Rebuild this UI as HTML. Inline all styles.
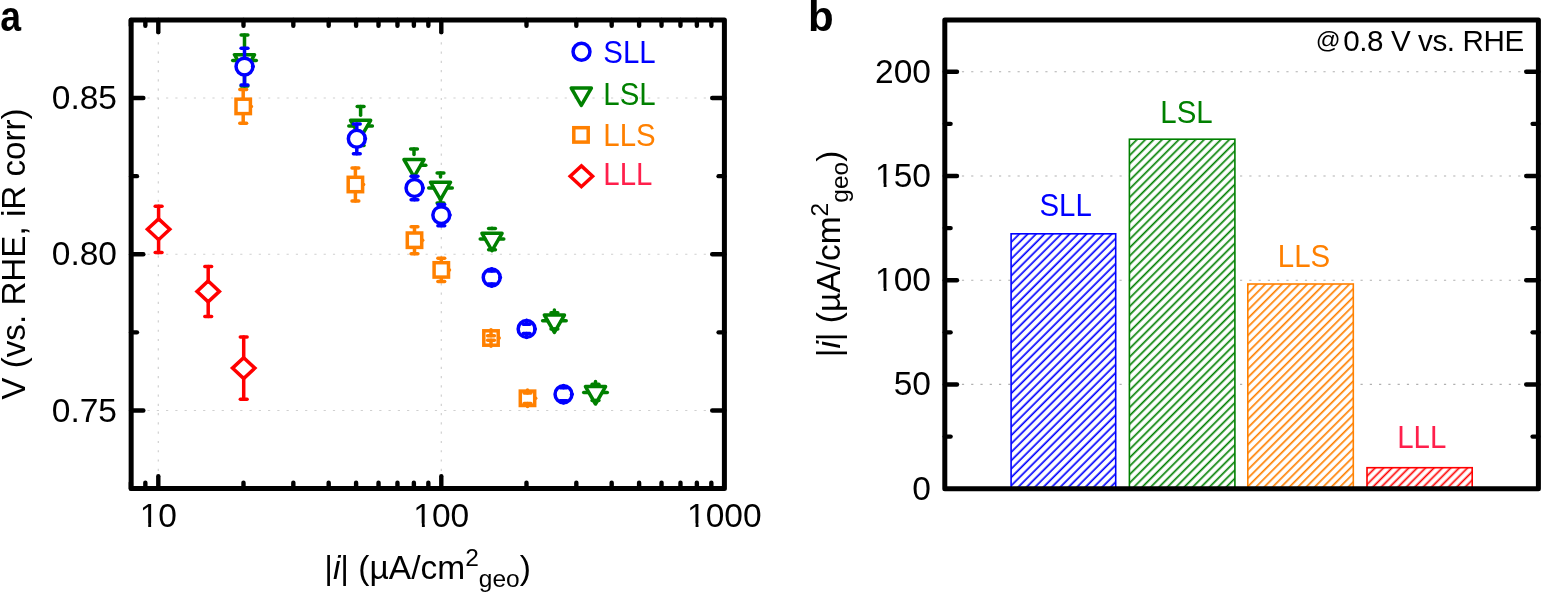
<!DOCTYPE html>
<html><head><meta charset="utf-8"><title>Figure</title>
<style>html,body{margin:0;padding:0;background:#fff;}svg{display:block;}</style>
</head><body>
<svg width="1541" height="593" viewBox="0 0 1541 593" font-family="'Liberation Sans', Arial, Helvetica, sans-serif"><defs><pattern id="h0" patternUnits="userSpaceOnUse" width="5.94" height="5.94" patternTransform="rotate(45)"><rect width="5.94" height="5.94" fill="#fff"/><line x1="-4.738" y1="-1" x2="-4.738" y2="6.94" stroke="#0000ff" stroke-width="1.7"/><line x1="1.202" y1="-1" x2="1.202" y2="6.94" stroke="#0000ff" stroke-width="1.7"/><line x1="7.142" y1="-1" x2="7.142" y2="6.94" stroke="#0000ff" stroke-width="1.7"/></pattern><pattern id="h1" patternUnits="userSpaceOnUse" width="5.94" height="5.94" patternTransform="rotate(45)"><rect width="5.94" height="5.94" fill="#fff"/><line x1="-0.283" y1="-1" x2="-0.283" y2="6.94" stroke="#008000" stroke-width="1.7"/><line x1="5.657" y1="-1" x2="5.657" y2="6.94" stroke="#008000" stroke-width="1.7"/><line x1="11.597" y1="-1" x2="11.597" y2="6.94" stroke="#008000" stroke-width="1.7"/></pattern><pattern id="h2" patternUnits="userSpaceOnUse" width="5.94" height="5.94" patternTransform="rotate(45)"><rect width="5.94" height="5.94" fill="#fff"/><line x1="-3.182" y1="-1" x2="-3.182" y2="6.94" stroke="#ff8000" stroke-width="1.7"/><line x1="2.758" y1="-1" x2="2.758" y2="6.94" stroke="#ff8000" stroke-width="1.7"/><line x1="8.698" y1="-1" x2="8.698" y2="6.94" stroke="#ff8000" stroke-width="1.7"/></pattern><pattern id="h3" patternUnits="userSpaceOnUse" width="5.94" height="5.94" patternTransform="rotate(45)"><rect width="5.94" height="5.94" fill="#fff"/><line x1="-3.536" y1="-1" x2="-3.536" y2="6.94" stroke="#ff0000" stroke-width="1.7"/><line x1="2.404" y1="-1" x2="2.404" y2="6.94" stroke="#ff0000" stroke-width="1.7"/><line x1="8.344" y1="-1" x2="8.344" y2="6.94" stroke="#ff0000" stroke-width="1.7"/></pattern></defs><line x1="147.50" y1="98.00" x2="721.40" y2="98.00" stroke="#d0d0d0" stroke-width="1.2" stroke-dasharray="2.2 7.07"/>
<line x1="147.50" y1="254.25" x2="721.40" y2="254.25" stroke="#d0d0d0" stroke-width="1.2" stroke-dasharray="2.2 7.07"/>
<line x1="147.50" y1="410.50" x2="721.40" y2="410.50" stroke="#d0d0d0" stroke-width="1.2" stroke-dasharray="2.2 7.07"/>
<line x1="158.30" y1="33.00" x2="158.30" y2="476.50" stroke="#d0d0d0" stroke-width="1.2" stroke-dasharray="2.2 7.07"/>
<line x1="441.30" y1="33.00" x2="441.30" y2="476.50" stroke="#d0d0d0" stroke-width="1.2" stroke-dasharray="2.2 7.07"/>
<line x1="130.87" y1="488.50" x2="130.87" y2="482.70" stroke="#000" stroke-width="4.4" stroke-linecap="round"/>
<line x1="130.87" y1="19.95" x2="130.87" y2="25.75" stroke="#000" stroke-width="4.4" stroke-linecap="round"/>
<line x1="145.35" y1="488.50" x2="145.35" y2="482.70" stroke="#000" stroke-width="4.4" stroke-linecap="round"/>
<line x1="145.35" y1="19.95" x2="145.35" y2="25.75" stroke="#000" stroke-width="4.4" stroke-linecap="round"/>
<line x1="158.30" y1="488.50" x2="158.30" y2="476.30" stroke="#000" stroke-width="4.4" stroke-linecap="round"/>
<line x1="158.30" y1="19.95" x2="158.30" y2="32.15" stroke="#000" stroke-width="4.4" stroke-linecap="round"/>
<line x1="243.49" y1="488.50" x2="243.49" y2="482.70" stroke="#000" stroke-width="4.4" stroke-linecap="round"/>
<line x1="243.49" y1="19.95" x2="243.49" y2="25.75" stroke="#000" stroke-width="4.4" stroke-linecap="round"/>
<line x1="293.33" y1="488.50" x2="293.33" y2="482.70" stroke="#000" stroke-width="4.4" stroke-linecap="round"/>
<line x1="293.33" y1="19.95" x2="293.33" y2="25.75" stroke="#000" stroke-width="4.4" stroke-linecap="round"/>
<line x1="328.68" y1="488.50" x2="328.68" y2="482.70" stroke="#000" stroke-width="4.4" stroke-linecap="round"/>
<line x1="328.68" y1="19.95" x2="328.68" y2="25.75" stroke="#000" stroke-width="4.4" stroke-linecap="round"/>
<line x1="356.11" y1="488.50" x2="356.11" y2="482.70" stroke="#000" stroke-width="4.4" stroke-linecap="round"/>
<line x1="356.11" y1="19.95" x2="356.11" y2="25.75" stroke="#000" stroke-width="4.4" stroke-linecap="round"/>
<line x1="378.52" y1="488.50" x2="378.52" y2="482.70" stroke="#000" stroke-width="4.4" stroke-linecap="round"/>
<line x1="378.52" y1="19.95" x2="378.52" y2="25.75" stroke="#000" stroke-width="4.4" stroke-linecap="round"/>
<line x1="397.46" y1="488.50" x2="397.46" y2="482.70" stroke="#000" stroke-width="4.4" stroke-linecap="round"/>
<line x1="397.46" y1="19.95" x2="397.46" y2="25.75" stroke="#000" stroke-width="4.4" stroke-linecap="round"/>
<line x1="413.87" y1="488.50" x2="413.87" y2="482.70" stroke="#000" stroke-width="4.4" stroke-linecap="round"/>
<line x1="413.87" y1="19.95" x2="413.87" y2="25.75" stroke="#000" stroke-width="4.4" stroke-linecap="round"/>
<line x1="428.35" y1="488.50" x2="428.35" y2="482.70" stroke="#000" stroke-width="4.4" stroke-linecap="round"/>
<line x1="428.35" y1="19.95" x2="428.35" y2="25.75" stroke="#000" stroke-width="4.4" stroke-linecap="round"/>
<line x1="441.30" y1="488.50" x2="441.30" y2="476.30" stroke="#000" stroke-width="4.4" stroke-linecap="round"/>
<line x1="441.30" y1="19.95" x2="441.30" y2="32.15" stroke="#000" stroke-width="4.4" stroke-linecap="round"/>
<line x1="526.49" y1="488.50" x2="526.49" y2="482.70" stroke="#000" stroke-width="4.4" stroke-linecap="round"/>
<line x1="526.49" y1="19.95" x2="526.49" y2="25.75" stroke="#000" stroke-width="4.4" stroke-linecap="round"/>
<line x1="576.33" y1="488.50" x2="576.33" y2="482.70" stroke="#000" stroke-width="4.4" stroke-linecap="round"/>
<line x1="576.33" y1="19.95" x2="576.33" y2="25.75" stroke="#000" stroke-width="4.4" stroke-linecap="round"/>
<line x1="611.68" y1="488.50" x2="611.68" y2="482.70" stroke="#000" stroke-width="4.4" stroke-linecap="round"/>
<line x1="611.68" y1="19.95" x2="611.68" y2="25.75" stroke="#000" stroke-width="4.4" stroke-linecap="round"/>
<line x1="639.11" y1="488.50" x2="639.11" y2="482.70" stroke="#000" stroke-width="4.4" stroke-linecap="round"/>
<line x1="639.11" y1="19.95" x2="639.11" y2="25.75" stroke="#000" stroke-width="4.4" stroke-linecap="round"/>
<line x1="661.52" y1="488.50" x2="661.52" y2="482.70" stroke="#000" stroke-width="4.4" stroke-linecap="round"/>
<line x1="661.52" y1="19.95" x2="661.52" y2="25.75" stroke="#000" stroke-width="4.4" stroke-linecap="round"/>
<line x1="680.46" y1="488.50" x2="680.46" y2="482.70" stroke="#000" stroke-width="4.4" stroke-linecap="round"/>
<line x1="680.46" y1="19.95" x2="680.46" y2="25.75" stroke="#000" stroke-width="4.4" stroke-linecap="round"/>
<line x1="696.87" y1="488.50" x2="696.87" y2="482.70" stroke="#000" stroke-width="4.4" stroke-linecap="round"/>
<line x1="696.87" y1="19.95" x2="696.87" y2="25.75" stroke="#000" stroke-width="4.4" stroke-linecap="round"/>
<line x1="711.35" y1="488.50" x2="711.35" y2="482.70" stroke="#000" stroke-width="4.4" stroke-linecap="round"/>
<line x1="711.35" y1="19.95" x2="711.35" y2="25.75" stroke="#000" stroke-width="4.4" stroke-linecap="round"/>
<line x1="131.15" y1="98.00" x2="143.35" y2="98.00" stroke="#000" stroke-width="4.4" stroke-linecap="round"/>
<line x1="724.40" y1="98.00" x2="712.20" y2="98.00" stroke="#000" stroke-width="4.4" stroke-linecap="round"/>
<line x1="131.15" y1="176.13" x2="136.95" y2="176.13" stroke="#000" stroke-width="4.4" stroke-linecap="round"/>
<line x1="724.40" y1="176.13" x2="718.60" y2="176.13" stroke="#000" stroke-width="4.4" stroke-linecap="round"/>
<line x1="131.15" y1="254.25" x2="143.35" y2="254.25" stroke="#000" stroke-width="4.4" stroke-linecap="round"/>
<line x1="724.40" y1="254.25" x2="712.20" y2="254.25" stroke="#000" stroke-width="4.4" stroke-linecap="round"/>
<line x1="131.15" y1="332.37" x2="136.95" y2="332.37" stroke="#000" stroke-width="4.4" stroke-linecap="round"/>
<line x1="724.40" y1="332.37" x2="718.60" y2="332.37" stroke="#000" stroke-width="4.4" stroke-linecap="round"/>
<line x1="131.15" y1="410.50" x2="143.35" y2="410.50" stroke="#000" stroke-width="4.4" stroke-linecap="round"/>
<line x1="724.40" y1="410.50" x2="712.20" y2="410.50" stroke="#000" stroke-width="4.4" stroke-linecap="round"/>
<rect x="131.15" y="19.95" width="593.25" height="468.55" fill="none" stroke="#000" stroke-width="5.0" stroke-linejoin="round"/>
<polygon points="158.60,218.90 169.80,229.30 158.60,239.70 147.40,229.30" fill="#fff" stroke="#ff0000" stroke-width="3.5" stroke-linejoin="miter"/>
<line x1="158.60" y1="219.80" x2="158.60" y2="206.20" stroke="#ff0000" stroke-width="3.5" stroke-linecap="round"/><line x1="155.20" y1="206.20" x2="162.00" y2="206.20" stroke="#ff0000" stroke-width="3.5" stroke-linecap="round"/><line x1="158.60" y1="238.80" x2="158.60" y2="252.40" stroke="#ff0000" stroke-width="3.5" stroke-linecap="round"/><line x1="155.20" y1="252.40" x2="162.00" y2="252.40" stroke="#ff0000" stroke-width="3.5" stroke-linecap="round"/>
<polygon points="208.20,281.00 219.40,291.40 208.20,301.80 197.00,291.40" fill="#fff" stroke="#ff0000" stroke-width="3.5" stroke-linejoin="miter"/>
<line x1="208.20" y1="281.90" x2="208.20" y2="266.40" stroke="#ff0000" stroke-width="3.5" stroke-linecap="round"/><line x1="204.80" y1="266.40" x2="211.60" y2="266.40" stroke="#ff0000" stroke-width="3.5" stroke-linecap="round"/><line x1="208.20" y1="300.90" x2="208.20" y2="316.40" stroke="#ff0000" stroke-width="3.5" stroke-linecap="round"/><line x1="204.80" y1="316.40" x2="211.60" y2="316.40" stroke="#ff0000" stroke-width="3.5" stroke-linecap="round"/>
<polygon points="243.70,357.70 254.90,368.10 243.70,378.50 232.50,368.10" fill="#fff" stroke="#ff0000" stroke-width="3.5" stroke-linejoin="miter"/>
<line x1="243.70" y1="358.60" x2="243.70" y2="336.90" stroke="#ff0000" stroke-width="3.5" stroke-linecap="round"/><line x1="240.30" y1="336.90" x2="247.10" y2="336.90" stroke="#ff0000" stroke-width="3.5" stroke-linecap="round"/><line x1="243.70" y1="377.60" x2="243.70" y2="399.30" stroke="#ff0000" stroke-width="3.5" stroke-linecap="round"/><line x1="240.30" y1="399.30" x2="247.10" y2="399.30" stroke="#ff0000" stroke-width="3.5" stroke-linecap="round"/>
<rect x="236.00" y="99.20" width="14.40" height="14.40" fill="#fff" stroke="#ff8000" stroke-width="3.5"/>
<line x1="243.20" y1="98.20" x2="243.20" y2="89.55" stroke="#ff8000" stroke-width="3.5" stroke-linecap="round"/><line x1="239.80" y1="89.55" x2="246.60" y2="89.55" stroke="#ff8000" stroke-width="3.5" stroke-linecap="round"/><line x1="243.20" y1="114.60" x2="243.20" y2="123.25" stroke="#ff8000" stroke-width="3.5" stroke-linecap="round"/><line x1="239.80" y1="123.25" x2="246.60" y2="123.25" stroke="#ff8000" stroke-width="3.5" stroke-linecap="round"/>
<line x1="251.40" y1="106.40" x2="250.80" y2="106.40" stroke="#ff8000" stroke-width="3.5" stroke-linecap="round"/>
<rect x="348.20" y="177.30" width="14.40" height="14.40" fill="#fff" stroke="#ff8000" stroke-width="3.5"/>
<line x1="355.40" y1="176.30" x2="355.40" y2="168.05" stroke="#ff8000" stroke-width="3.5" stroke-linecap="round"/><line x1="352.00" y1="168.05" x2="358.80" y2="168.05" stroke="#ff8000" stroke-width="3.5" stroke-linecap="round"/><line x1="355.40" y1="192.70" x2="355.40" y2="200.95" stroke="#ff8000" stroke-width="3.5" stroke-linecap="round"/><line x1="352.00" y1="200.95" x2="358.80" y2="200.95" stroke="#ff8000" stroke-width="3.5" stroke-linecap="round"/>
<line x1="363.60" y1="184.50" x2="363.00" y2="184.50" stroke="#ff8000" stroke-width="3.5" stroke-linecap="round"/>
<rect x="407.30" y="233.00" width="14.40" height="14.40" fill="#fff" stroke="#ff8000" stroke-width="3.5"/>
<line x1="414.50" y1="232.00" x2="414.50" y2="226.70" stroke="#ff8000" stroke-width="3.5" stroke-linecap="round"/><line x1="411.10" y1="226.70" x2="417.90" y2="226.70" stroke="#ff8000" stroke-width="3.5" stroke-linecap="round"/><line x1="414.50" y1="248.40" x2="414.50" y2="253.70" stroke="#ff8000" stroke-width="3.5" stroke-linecap="round"/><line x1="411.10" y1="253.70" x2="417.90" y2="253.70" stroke="#ff8000" stroke-width="3.5" stroke-linecap="round"/>
<line x1="422.70" y1="240.20" x2="422.10" y2="240.20" stroke="#ff8000" stroke-width="3.5" stroke-linecap="round"/>
<rect x="434.10" y="262.70" width="14.40" height="14.40" fill="#fff" stroke="#ff8000" stroke-width="3.5"/>
<line x1="441.30" y1="261.70" x2="441.30" y2="258.30" stroke="#ff8000" stroke-width="3.5" stroke-linecap="round"/><line x1="437.90" y1="258.30" x2="444.70" y2="258.30" stroke="#ff8000" stroke-width="3.5" stroke-linecap="round"/><line x1="441.30" y1="278.10" x2="441.30" y2="281.50" stroke="#ff8000" stroke-width="3.5" stroke-linecap="round"/><line x1="437.90" y1="281.50" x2="444.70" y2="281.50" stroke="#ff8000" stroke-width="3.5" stroke-linecap="round"/>
<line x1="449.50" y1="269.90" x2="448.90" y2="269.90" stroke="#ff8000" stroke-width="3.5" stroke-linecap="round"/>
<rect x="483.80" y="330.80" width="14.40" height="14.40" fill="#fff" stroke="#ff8000" stroke-width="3.5"/>
<line x1="491.00" y1="329.80" x2="491.00" y2="335.70" stroke="#ff8000" stroke-width="3.5" stroke-linecap="round"/><line x1="487.60" y1="335.70" x2="494.40" y2="335.70" stroke="#ff8000" stroke-width="3.5" stroke-linecap="round"/><line x1="491.00" y1="346.20" x2="491.00" y2="340.30" stroke="#ff8000" stroke-width="3.5" stroke-linecap="round"/><line x1="487.60" y1="340.30" x2="494.40" y2="340.30" stroke="#ff8000" stroke-width="3.5" stroke-linecap="round"/>
<line x1="499.20" y1="338.00" x2="498.60" y2="338.00" stroke="#ff8000" stroke-width="3.5" stroke-linecap="round"/>
<rect x="520.30" y="391.10" width="14.40" height="14.40" fill="#fff" stroke="#ff8000" stroke-width="3.5"/>
<line x1="527.50" y1="390.10" x2="527.50" y2="393.00" stroke="#ff8000" stroke-width="3.5" stroke-linecap="round"/><line x1="524.10" y1="393.00" x2="530.90" y2="393.00" stroke="#ff8000" stroke-width="3.5" stroke-linecap="round"/><line x1="527.50" y1="406.50" x2="527.50" y2="403.60" stroke="#ff8000" stroke-width="3.5" stroke-linecap="round"/><line x1="524.10" y1="403.60" x2="530.90" y2="403.60" stroke="#ff8000" stroke-width="3.5" stroke-linecap="round"/>
<line x1="535.70" y1="398.30" x2="535.10" y2="398.30" stroke="#ff8000" stroke-width="3.5" stroke-linecap="round"/>
<polygon points="234.45,54.70 254.55,54.70 244.50,72.10" fill="#fff" stroke="#008000" stroke-width="3.5" stroke-linejoin="round"/>
<line x1="244.50" y1="49.60" x2="244.50" y2="35.10" stroke="#008000" stroke-width="3.5" stroke-linecap="round"/><line x1="241.10" y1="35.10" x2="247.90" y2="35.10" stroke="#008000" stroke-width="3.5" stroke-linecap="round"/><line x1="244.50" y1="71.40" x2="244.50" y2="85.90" stroke="#008000" stroke-width="3.5" stroke-linecap="round"/><line x1="241.10" y1="85.90" x2="247.90" y2="85.90" stroke="#008000" stroke-width="3.5" stroke-linecap="round"/>
<line x1="251.50" y1="60.50" x2="256.30" y2="60.50" stroke="#008000" stroke-width="3.5" stroke-linecap="round"/><line x1="237.50" y1="60.50" x2="232.70" y2="60.50" stroke="#008000" stroke-width="3.5" stroke-linecap="round"/>
<polygon points="350.55,120.30 370.65,120.30 360.60,137.70" fill="#fff" stroke="#008000" stroke-width="3.5" stroke-linejoin="round"/>
<line x1="360.60" y1="115.20" x2="360.60" y2="106.60" stroke="#008000" stroke-width="3.5" stroke-linecap="round"/><line x1="357.20" y1="106.60" x2="364.00" y2="106.60" stroke="#008000" stroke-width="3.5" stroke-linecap="round"/><line x1="360.60" y1="137.00" x2="360.60" y2="145.60" stroke="#008000" stroke-width="3.5" stroke-linecap="round"/><line x1="357.20" y1="145.60" x2="364.00" y2="145.60" stroke="#008000" stroke-width="3.5" stroke-linecap="round"/>
<line x1="367.60" y1="126.10" x2="372.40" y2="126.10" stroke="#008000" stroke-width="3.5" stroke-linecap="round"/><line x1="353.60" y1="126.10" x2="348.80" y2="126.10" stroke="#008000" stroke-width="3.5" stroke-linecap="round"/>
<polygon points="403.95,159.50 424.05,159.50 414.00,176.90" fill="#fff" stroke="#008000" stroke-width="3.5" stroke-linejoin="round"/>
<line x1="414.00" y1="154.40" x2="414.00" y2="149.00" stroke="#008000" stroke-width="3.5" stroke-linecap="round"/><line x1="410.60" y1="149.00" x2="417.40" y2="149.00" stroke="#008000" stroke-width="3.5" stroke-linecap="round"/><line x1="414.00" y1="176.20" x2="414.00" y2="181.60" stroke="#008000" stroke-width="3.5" stroke-linecap="round"/><line x1="410.60" y1="181.60" x2="417.40" y2="181.60" stroke="#008000" stroke-width="3.5" stroke-linecap="round"/>
<line x1="421.00" y1="165.30" x2="425.80" y2="165.30" stroke="#008000" stroke-width="3.5" stroke-linecap="round"/>
<polygon points="430.45,182.20 450.55,182.20 440.50,199.60" fill="#fff" stroke="#008000" stroke-width="3.5" stroke-linejoin="round"/>
<line x1="440.50" y1="177.10" x2="440.50" y2="173.00" stroke="#008000" stroke-width="3.5" stroke-linecap="round"/><line x1="437.10" y1="173.00" x2="443.90" y2="173.00" stroke="#008000" stroke-width="3.5" stroke-linecap="round"/><line x1="440.50" y1="198.90" x2="440.50" y2="203.00" stroke="#008000" stroke-width="3.5" stroke-linecap="round"/><line x1="437.10" y1="203.00" x2="443.90" y2="203.00" stroke="#008000" stroke-width="3.5" stroke-linecap="round"/>
<line x1="447.50" y1="188.00" x2="452.30" y2="188.00" stroke="#008000" stroke-width="3.5" stroke-linecap="round"/><line x1="433.50" y1="188.00" x2="428.70" y2="188.00" stroke="#008000" stroke-width="3.5" stroke-linecap="round"/>
<polygon points="481.95,233.30 502.05,233.30 492.00,250.70" fill="#fff" stroke="#008000" stroke-width="3.5" stroke-linejoin="round"/>
<line x1="492.00" y1="228.20" x2="492.00" y2="228.50" stroke="#008000" stroke-width="3.5" stroke-linecap="round"/><line x1="488.60" y1="228.50" x2="495.40" y2="228.50" stroke="#008000" stroke-width="3.5" stroke-linecap="round"/><line x1="492.00" y1="250.00" x2="492.00" y2="249.70" stroke="#008000" stroke-width="3.5" stroke-linecap="round"/><line x1="488.60" y1="249.70" x2="495.40" y2="249.70" stroke="#008000" stroke-width="3.5" stroke-linecap="round"/>
<line x1="499.00" y1="239.10" x2="503.80" y2="239.10" stroke="#008000" stroke-width="3.5" stroke-linecap="round"/><line x1="485.00" y1="239.10" x2="480.20" y2="239.10" stroke="#008000" stroke-width="3.5" stroke-linecap="round"/>
<polygon points="544.35,315.00 564.45,315.00 554.40,332.40" fill="#fff" stroke="#008000" stroke-width="3.5" stroke-linejoin="round"/>
<line x1="554.40" y1="309.90" x2="554.40" y2="312.70" stroke="#008000" stroke-width="3.5" stroke-linecap="round"/><line x1="551.00" y1="312.70" x2="557.80" y2="312.70" stroke="#008000" stroke-width="3.5" stroke-linecap="round"/><line x1="554.40" y1="331.70" x2="554.40" y2="328.90" stroke="#008000" stroke-width="3.5" stroke-linecap="round"/><line x1="551.00" y1="328.90" x2="557.80" y2="328.90" stroke="#008000" stroke-width="3.5" stroke-linecap="round"/>
<line x1="561.40" y1="320.80" x2="566.20" y2="320.80" stroke="#008000" stroke-width="3.5" stroke-linecap="round"/><line x1="547.40" y1="320.80" x2="542.60" y2="320.80" stroke="#008000" stroke-width="3.5" stroke-linecap="round"/>
<polygon points="585.45,386.60 605.55,386.60 595.50,404.00" fill="#fff" stroke="#008000" stroke-width="3.5" stroke-linejoin="round"/>
<line x1="595.50" y1="381.50" x2="595.50" y2="384.30" stroke="#008000" stroke-width="3.5" stroke-linecap="round"/><line x1="592.10" y1="384.30" x2="598.90" y2="384.30" stroke="#008000" stroke-width="3.5" stroke-linecap="round"/><line x1="595.50" y1="403.30" x2="595.50" y2="400.50" stroke="#008000" stroke-width="3.5" stroke-linecap="round"/><line x1="592.10" y1="400.50" x2="598.90" y2="400.50" stroke="#008000" stroke-width="3.5" stroke-linecap="round"/>
<line x1="602.50" y1="392.40" x2="607.30" y2="392.40" stroke="#008000" stroke-width="3.5" stroke-linecap="round"/><line x1="588.50" y1="392.40" x2="583.70" y2="392.40" stroke="#008000" stroke-width="3.5" stroke-linecap="round"/>
<circle cx="244.50" cy="66.60" r="8.45" fill="#fff" stroke="#0000ff" stroke-width="3.5"/>
<line x1="244.50" y1="57.90" x2="244.50" y2="48.30" stroke="#0000ff" stroke-width="3.5" stroke-linecap="round"/><line x1="241.10" y1="48.30" x2="247.90" y2="48.30" stroke="#0000ff" stroke-width="3.5" stroke-linecap="round"/><line x1="244.50" y1="75.30" x2="244.50" y2="84.90" stroke="#0000ff" stroke-width="3.5" stroke-linecap="round"/><line x1="241.10" y1="84.90" x2="247.90" y2="84.90" stroke="#0000ff" stroke-width="3.5" stroke-linecap="round"/>
<line x1="253.20" y1="66.60" x2="252.60" y2="66.60" stroke="#0000ff" stroke-width="3.5" stroke-linecap="round"/>
<circle cx="356.80" cy="138.80" r="8.45" fill="#fff" stroke="#0000ff" stroke-width="3.5"/>
<line x1="356.80" y1="130.10" x2="356.80" y2="123.90" stroke="#0000ff" stroke-width="3.5" stroke-linecap="round"/><line x1="353.40" y1="123.90" x2="360.20" y2="123.90" stroke="#0000ff" stroke-width="3.5" stroke-linecap="round"/><line x1="356.80" y1="147.50" x2="356.80" y2="153.70" stroke="#0000ff" stroke-width="3.5" stroke-linecap="round"/><line x1="353.40" y1="153.70" x2="360.20" y2="153.70" stroke="#0000ff" stroke-width="3.5" stroke-linecap="round"/>
<line x1="365.50" y1="138.80" x2="364.90" y2="138.80" stroke="#0000ff" stroke-width="3.5" stroke-linecap="round"/>
<circle cx="414.50" cy="188.00" r="8.45" fill="#fff" stroke="#0000ff" stroke-width="3.5"/>
<line x1="414.50" y1="179.30" x2="414.50" y2="176.30" stroke="#0000ff" stroke-width="3.5" stroke-linecap="round"/><line x1="411.10" y1="176.30" x2="417.90" y2="176.30" stroke="#0000ff" stroke-width="3.5" stroke-linecap="round"/><line x1="414.50" y1="196.70" x2="414.50" y2="199.70" stroke="#0000ff" stroke-width="3.5" stroke-linecap="round"/><line x1="411.10" y1="199.70" x2="417.90" y2="199.70" stroke="#0000ff" stroke-width="3.5" stroke-linecap="round"/>
<line x1="423.20" y1="188.00" x2="422.60" y2="188.00" stroke="#0000ff" stroke-width="3.5" stroke-linecap="round"/>
<circle cx="441.30" cy="215.10" r="8.45" fill="#fff" stroke="#0000ff" stroke-width="3.5"/>
<line x1="441.30" y1="206.40" x2="441.30" y2="204.40" stroke="#0000ff" stroke-width="3.5" stroke-linecap="round"/><line x1="437.90" y1="204.40" x2="444.70" y2="204.40" stroke="#0000ff" stroke-width="3.5" stroke-linecap="round"/><line x1="441.30" y1="223.80" x2="441.30" y2="225.80" stroke="#0000ff" stroke-width="3.5" stroke-linecap="round"/><line x1="437.90" y1="225.80" x2="444.70" y2="225.80" stroke="#0000ff" stroke-width="3.5" stroke-linecap="round"/>
<line x1="450.00" y1="215.10" x2="449.40" y2="215.10" stroke="#0000ff" stroke-width="3.5" stroke-linecap="round"/>
<circle cx="491.70" cy="277.50" r="8.45" fill="#fff" stroke="#0000ff" stroke-width="3.5"/>
<line x1="491.70" y1="268.80" x2="491.70" y2="271.10" stroke="#0000ff" stroke-width="3.5" stroke-linecap="round"/><line x1="488.30" y1="271.10" x2="495.10" y2="271.10" stroke="#0000ff" stroke-width="3.5" stroke-linecap="round"/><line x1="491.70" y1="286.20" x2="491.70" y2="283.90" stroke="#0000ff" stroke-width="3.5" stroke-linecap="round"/><line x1="488.30" y1="283.90" x2="495.10" y2="283.90" stroke="#0000ff" stroke-width="3.5" stroke-linecap="round"/>
<line x1="500.40" y1="277.50" x2="499.80" y2="277.50" stroke="#0000ff" stroke-width="3.5" stroke-linecap="round"/>
<circle cx="526.60" cy="328.90" r="8.45" fill="#fff" stroke="#0000ff" stroke-width="3.5"/>
<line x1="526.60" y1="320.20" x2="526.60" y2="324.30" stroke="#0000ff" stroke-width="3.5" stroke-linecap="round"/><line x1="523.20" y1="324.30" x2="530.00" y2="324.30" stroke="#0000ff" stroke-width="3.5" stroke-linecap="round"/><line x1="526.60" y1="337.60" x2="526.60" y2="333.50" stroke="#0000ff" stroke-width="3.5" stroke-linecap="round"/><line x1="523.20" y1="333.50" x2="530.00" y2="333.50" stroke="#0000ff" stroke-width="3.5" stroke-linecap="round"/>
<line x1="535.30" y1="328.90" x2="534.70" y2="328.90" stroke="#0000ff" stroke-width="3.5" stroke-linecap="round"/>
<circle cx="563.50" cy="394.20" r="8.45" fill="#fff" stroke="#0000ff" stroke-width="3.5"/>
<line x1="563.50" y1="385.50" x2="563.50" y2="387.70" stroke="#0000ff" stroke-width="3.5" stroke-linecap="round"/><line x1="560.10" y1="387.70" x2="566.90" y2="387.70" stroke="#0000ff" stroke-width="3.5" stroke-linecap="round"/><line x1="563.50" y1="402.90" x2="563.50" y2="400.70" stroke="#0000ff" stroke-width="3.5" stroke-linecap="round"/><line x1="560.10" y1="400.70" x2="566.90" y2="400.70" stroke="#0000ff" stroke-width="3.5" stroke-linecap="round"/>
<line x1="572.20" y1="394.20" x2="571.60" y2="394.20" stroke="#0000ff" stroke-width="3.5" stroke-linecap="round"/>
<circle cx="581.50" cy="51.80" r="8.45" fill="#fff" stroke="#0000ff" stroke-width="3.5"/>
<polygon points="571.25,88.00 591.35,88.00 581.30,105.40" fill="#fff" stroke="#008000" stroke-width="3.5" stroke-linejoin="round"/>
<rect x="573.80" y="127.70" width="14.40" height="14.40" fill="#fff" stroke="#ff8000" stroke-width="3.5"/>
<polygon points="581.40,165.90 592.60,176.30 581.40,186.70 570.20,176.30" fill="#fff" stroke="#ff0000" stroke-width="3.5" stroke-linejoin="miter"/>
<text transform="translate(603.30,63.30) scale(0.965,1)" font-size="30.5" fill="#0000ff" text-anchor="start">SLL</text>
<text transform="translate(603.30,104.80) scale(0.965,1)" font-size="30.5" fill="#008000" text-anchor="start">LSL</text>
<text transform="translate(603.30,145.80) scale(0.965,1)" font-size="30.5" fill="#ff8000" text-anchor="start">LLS</text>
<text transform="translate(603.30,185.40) scale(0.965,1)" font-size="30.5" fill="#ff1f4b" text-anchor="start">LLL</text>
<text x="117.00" y="109.00" font-size="33.5" fill="#000" text-anchor="end" >0.85</text>
<text x="117.00" y="265.25" font-size="33.5" fill="#000" text-anchor="end" >0.80</text>
<text x="117.00" y="421.50" font-size="33.5" fill="#000" text-anchor="end" >0.75</text>
<text x="158.30" y="526.80" font-size="33.5" fill="#000" text-anchor="middle" >10</text>
<rect x="141.17" y="523.40" width="7.05" height="4.00" fill="#fff"/>
<rect x="151.12" y="523.40" width="7.00" height="4.00" fill="#fff"/>
<text x="441.30" y="526.80" font-size="33.5" fill="#000" text-anchor="middle" >100</text>
<rect x="414.85" y="523.40" width="7.05" height="4.00" fill="#fff"/>
<rect x="424.80" y="523.40" width="7.00" height="4.00" fill="#fff"/>
<text x="724.30" y="526.80" font-size="33.5" fill="#000" text-anchor="middle" >1000</text>
<rect x="688.54" y="523.40" width="7.05" height="4.00" fill="#fff"/>
<rect x="698.49" y="523.40" width="7.00" height="4.00" fill="#fff"/>
<text transform="translate(24.6,254.0) rotate(-90)" font-size="33.2" text-anchor="middle">V (vs. RHE, iR corr)</text>
<text x="427.5" y="578.6" font-size="33.5" text-anchor="middle">|<tspan font-style="italic">i</tspan>| (µA/cm<tspan font-size="24.5" dy="-12.3">2</tspan><tspan font-size="24.5" dy="20.3">geo</tspan><tspan dy="-8">)</tspan></text>
<text transform="translate(0.3,30.8) scale(0.89,1)" font-size="42" font-weight="bold">a</text>
<text x="808.00" y="30.80" font-size="42" fill="#000" text-anchor="start" font-weight="bold">b</text>
<line x1="961.90" y1="384.46" x2="1524.40" y2="384.46" stroke="#b0b0b0" stroke-width="1.2" stroke-dasharray="2.2 7.07"/>
<line x1="961.90" y1="280.23" x2="1524.40" y2="280.23" stroke="#b0b0b0" stroke-width="1.2" stroke-dasharray="2.2 7.07"/>
<line x1="961.90" y1="175.99" x2="1524.40" y2="175.99" stroke="#b0b0b0" stroke-width="1.2" stroke-dasharray="2.2 7.07"/>
<line x1="961.90" y1="71.75" x2="1524.40" y2="71.75" stroke="#b0b0b0" stroke-width="1.2" stroke-dasharray="2.2 7.07"/>
<line x1="944.80" y1="436.58" x2="950.60" y2="436.58" stroke="#000" stroke-width="4.4" stroke-linecap="round"/>
<line x1="1538.40" y1="436.58" x2="1532.60" y2="436.58" stroke="#000" stroke-width="4.4" stroke-linecap="round"/>
<line x1="944.80" y1="384.46" x2="957.00" y2="384.46" stroke="#000" stroke-width="4.4" stroke-linecap="round"/>
<line x1="1538.40" y1="384.46" x2="1526.20" y2="384.46" stroke="#000" stroke-width="4.4" stroke-linecap="round"/>
<line x1="944.80" y1="332.34" x2="950.60" y2="332.34" stroke="#000" stroke-width="4.4" stroke-linecap="round"/>
<line x1="1538.40" y1="332.34" x2="1532.60" y2="332.34" stroke="#000" stroke-width="4.4" stroke-linecap="round"/>
<line x1="944.80" y1="280.23" x2="957.00" y2="280.23" stroke="#000" stroke-width="4.4" stroke-linecap="round"/>
<line x1="1538.40" y1="280.23" x2="1526.20" y2="280.23" stroke="#000" stroke-width="4.4" stroke-linecap="round"/>
<line x1="944.80" y1="228.11" x2="950.60" y2="228.11" stroke="#000" stroke-width="4.4" stroke-linecap="round"/>
<line x1="1538.40" y1="228.11" x2="1532.60" y2="228.11" stroke="#000" stroke-width="4.4" stroke-linecap="round"/>
<line x1="944.80" y1="175.99" x2="957.00" y2="175.99" stroke="#000" stroke-width="4.4" stroke-linecap="round"/>
<line x1="1538.40" y1="175.99" x2="1526.20" y2="175.99" stroke="#000" stroke-width="4.4" stroke-linecap="round"/>
<line x1="944.80" y1="123.87" x2="950.60" y2="123.87" stroke="#000" stroke-width="4.4" stroke-linecap="round"/>
<line x1="1538.40" y1="123.87" x2="1532.60" y2="123.87" stroke="#000" stroke-width="4.4" stroke-linecap="round"/>
<line x1="944.80" y1="71.75" x2="957.00" y2="71.75" stroke="#000" stroke-width="4.4" stroke-linecap="round"/>
<line x1="1538.40" y1="71.75" x2="1526.20" y2="71.75" stroke="#000" stroke-width="4.4" stroke-linecap="round"/>
<rect x="1011.10" y="233.80" width="104.60" height="254.90" fill="url(#h0)" stroke="#0000ff" stroke-width="1.6"/>
<text transform="translate(1065.60,215.60) scale(0.965,1)" font-size="30.5" fill="#0000ff" text-anchor="middle">SLL</text>
<rect x="1129.40" y="139.20" width="105.50" height="349.50" fill="url(#h1)" stroke="#008000" stroke-width="1.6"/>
<text transform="translate(1186.55,122.60) scale(0.965,1)" font-size="30.5" fill="#008000" text-anchor="middle">LSL</text>
<rect x="1247.80" y="284.00" width="105.50" height="204.70" fill="url(#h2)" stroke="#ff8000" stroke-width="1.6"/>
<text transform="translate(1304.05,267.00) scale(0.965,1)" font-size="30.5" fill="#ff8000" text-anchor="middle">LLS</text>
<rect x="1367.00" y="467.70" width="105.20" height="21.00" fill="url(#h3)" stroke="#ff0000" stroke-width="1.6"/>
<text transform="translate(1421.70,448.10) scale(0.965,1)" font-size="30.5" fill="#ff1f4b" text-anchor="middle">LLL</text>
<rect x="944.8" y="20.1" width="593.60" height="468.60" fill="none" stroke="#000" stroke-width="5.0" stroke-linejoin="round"/>
<text x="931.00" y="499.70" font-size="33.5" fill="#000" text-anchor="end" >0</text>
<text x="931.00" y="395.46" font-size="33.5" fill="#000" text-anchor="end" >50</text>
<text x="931.00" y="291.23" font-size="33.5" fill="#000" text-anchor="end" >100</text>
<rect x="876.61" y="287.83" width="7.05" height="4.00" fill="#fff"/>
<rect x="886.56" y="287.83" width="7.00" height="4.00" fill="#fff"/>
<text x="931.00" y="186.99" font-size="33.5" fill="#000" text-anchor="end" >150</text>
<rect x="876.61" y="183.59" width="7.05" height="4.00" fill="#fff"/>
<rect x="886.56" y="183.59" width="7.00" height="4.00" fill="#fff"/>
<text x="931.00" y="82.75" font-size="33.5" fill="#000" text-anchor="end" >200</text>
<text x="1523.80" y="50.80" font-size="29.6" fill="#000" text-anchor="end" letter-spacing="-0.4"><tspan font-size="24.5" dy="-3">@</tspan><tspan dy="3" dx="3">0.8 V vs. RHE</tspan></text>
<text transform="translate(840,254) rotate(-90)" font-size="33.5" text-anchor="middle">|<tspan font-style="italic">i</tspan>| (µA/cm<tspan font-size="24.5" dy="-12.3">2</tspan><tspan font-size="24.5" dy="20.3">geo</tspan><tspan dy="-8">)</tspan></text></svg>
</body></html>
